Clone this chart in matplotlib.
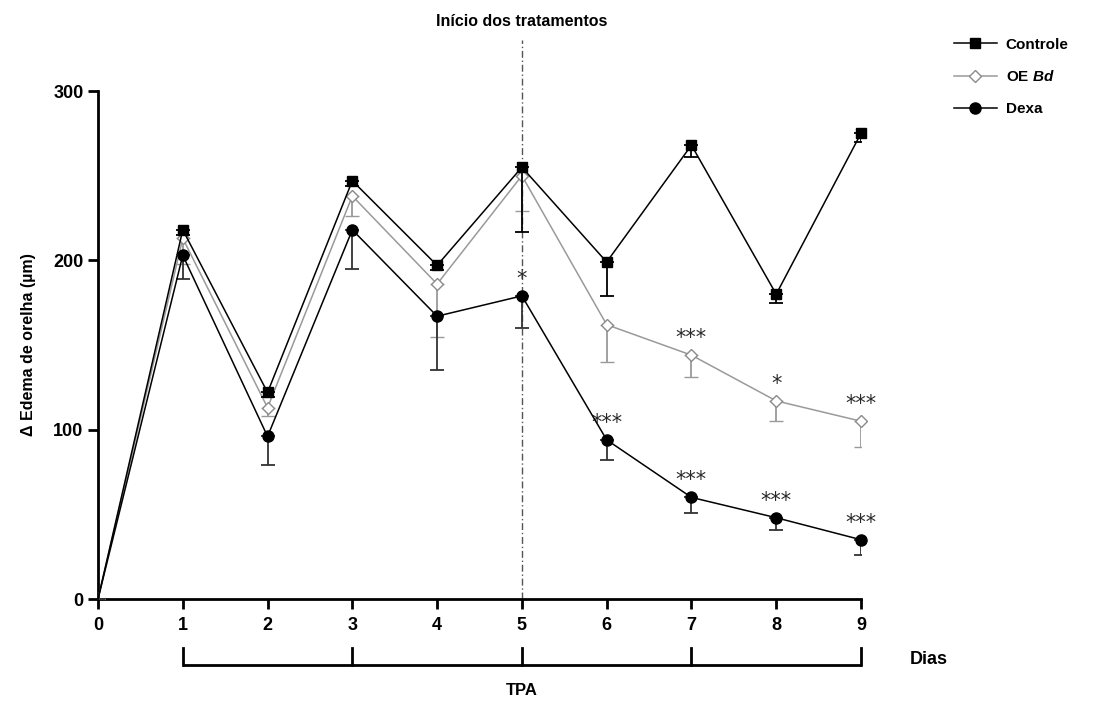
import matplotlib
matplotlib.use("Agg")
import numpy as np
import matplotlib.pyplot as plt
from matplotlib.lines import Line2D

plt.rcParams['font.family'] = ['Liberation Sans', 'DejaVu Sans']
plt.rcParams['font.weight'] = 'bold'
plt.rcParams['mathtext.fontset'] = 'custom'
plt.rcParams['mathtext.bf'] = 'Liberation Sans:bold:italic'

# dados
dias = [0, 1, 2, 3, 4, 5, 6, 7, 8, 9]
controle = [0, 218, 122, 247, 197, 255, 199, 268, 180, 275]
controle_err = [0, 3, 3, 3, 3, 38, 20, 7, 5, 5]
oebd = [0, 213, 113, 238, 186, 250, 162, 144, 117, 105]
oebd_err = [0, 15, 5, 12, 31, 21, 22, 13, 12, 15]
dexa = [0, 203, 96, 218, 167, 179, 94, 60, 48, 35]
dexa_err = [0, 14, 17, 23, 32, 19, 12, 9, 7, 9]
oebd_sig = ["", "", "", "", "", "", "", "***", "*", "***"]
dexa_sig = ["", "", "", "", "", "*", "***", "***", "***", "***"]

tpa_dias = [1, 3, 5, 7, 9]
inicio_trat = 5

fig = plt.figure(figsize=(10.95, 7.01), dpi=100)
ax = fig.add_axes([98/1095, 1-599/701, (861-98)/1095, (599-91)/701])

zeros = np.zeros(len(dias))
mk = list(range(1, len(dias)))

# Controle
c1 = ax.errorbar(dias, controle, yerr=[controle_err, zeros], color='black', lw=1.1,
                 marker='s', ms=7.5, mfc='black', mec='black', ecolor='black', markevery=mk,
                 elinewidth=1.3, capsize=5, capthick=1.3, zorder=4)
# OE Bd
c2 = ax.errorbar(dias, oebd, yerr=[oebd_err, zeros], color='#9a9a9a', lw=1.1,
                 marker='D', ms=6.5, mfc='white', mec='#8a8a8a', mew=1.0, ecolor='#9a9a9a',
                 markevery=mk, elinewidth=1.3, capsize=5, capthick=1.3, zorder=3)
# Dexa
c3 = ax.errorbar(dias, dexa, yerr=[dexa_err, zeros], color='black', lw=1.1,
                 marker='o', ms=8, mfc='black', mec='black', ecolor='#333333', markevery=mk,
                 elinewidth=1.3, capsize=5, capthick=1.3, zorder=5)
for c in (c1, c2, c3):
    c.lines[0].set_clip_on(False)

# asteriscos
for serie, sig in [(oebd, oebd_sig), (dexa, dexa_sig)]:
    for x, y, s in zip(dias, serie, sig):
        if s:
            ax.text(x, y + 10, s, ha='center', va='center', fontsize=15,
                    fontweight='normal', color='#2a2a2a', family='DejaVu Sans')

# linha do início dos tratamentos
ax.plot([inicio_trat, inicio_trat], [0, 330], color='#555555', lw=1.0,
        ls=(0, (5, 2, 1, 2)), clip_on=False, zorder=1)
ax.text(inicio_trat, 341, 'Início dos tratamentos', ha='center', va='center',
        fontsize=11.5, fontweight='bold')

ax.set_xlim(0, 9)
ax.set_ylim(0, 300)
ax.set_xticks(dias)
ax.set_yticks([0, 100, 200, 300])
ax.tick_params(axis='both', direction='out', length=7, width=2, labelsize=13)
for lab in ax.get_xticklabels() + ax.get_yticklabels():
    lab.set_fontweight('bold')
ax.tick_params(axis='x', pad=6)
for sp in ['top', 'right']:
    ax.spines[sp].set_visible(False)
for sp in ['left', 'bottom']:
    ax.spines[sp].set_linewidth(2)

ax.set_ylabel('Δ Edema de orelha (µm)', fontsize=11.5, fontweight='bold', labelpad=12)

# colchete TPA
yb, yt = -39, -29
ax.plot([tpa_dias[0], tpa_dias[-1]], [yb, yb], color='black', lw=2, clip_on=False,
        solid_capstyle='butt')
for d in tpa_dias:
    ax.plot([d, d], [yb, yt], color='black', lw=2, clip_on=False)
ax.text(9.8, -36, 'Dias', ha='center', va='center', fontsize=13, fontweight='bold')
ax.text(5, -54, 'TPA', ha='center', va='center', fontsize=12, fontweight='bold')

handles = [
    Line2D([], [], color='black', lw=1.1, marker='s', ms=7.5, mfc='black', mec='black'),
    Line2D([], [], color='#9a9a9a', lw=1.1, marker='D', ms=6.5, mfc='white', mec='#8a8a8a'),
    Line2D([], [], color='black', lw=1.1, marker='o', ms=8, mfc='black', mec='black'),
]
labels = ['Controle', r'OE $\mathbf{Bd}$', 'Dexa']
fig.legend(handles, labels, loc='upper left', bbox_to_anchor=(940/1095, 1-24/701),
           frameon=False, handlelength=2.8, labelspacing=1.15, handletextpad=0.6,
           prop={'weight': 'bold', 'size': 11})

fig.savefig('out.png', dpi=100)
